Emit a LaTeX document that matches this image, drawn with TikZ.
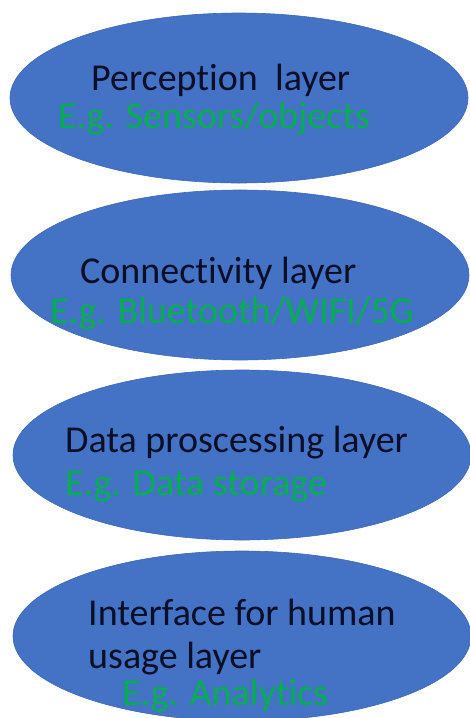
\documentclass[tikz,border=0pt]{standalone}
\usepackage{fontspec}
\setmainfont{Carlito}[Ligatures=NoCommon]
\usetikzlibrary{shapes.geometric}
\definecolor{layerblue}{HTML}{4472C4}
\definecolor{layeredge}{HTML}{3F69B5}
\definecolor{examplegreen}{HTML}{00B050}
\definecolor{titleink}{HTML}{0A0F28}
\tikzset{
	layer/.style={ellipse, fill=layerblue, draw=layeredge, line width=0.6pt, minimum width=458pt, minimum height=170pt, inner sep=0pt},
	title/.style={anchor=base west, inner sep=0pt, text=titleink, font=\fontsize{38}{44}\selectfont},
	example/.style={anchor=base west, inner sep=0pt, text=examplegreen, font=\fontsize{38}{44}\selectfont}
}
\begin{document}
\begin{tikzpicture}[x=1pt, y=-1pt]
		%%%%% START %%%%%
		\useasboundingbox (0, 0) rectangle (470, 718);
		
		\node[layer] (perception) at (239, 98) {};
		\node[title] (perceptiontitle) at (91, 90) {Perception\ \ layer};
		\node[example] (perceptionexample) at (58, 128) {E.g. Sensors/objects};
		
		\node[layer] (connectivity) at (240, 275) {};
		\node[title] (connectivitytitle) at (80, 283) {Connectivity layer};
		\node[example] (connectivityexample) at (50, 323) {E.g. Bluetooth/WIFI/5G};
		
		\node[layer] (processing) at (242, 455) {};
		\node[title] (processingtitle) at (65, 452) {Data proscessing layer};
		\node[example] (processingexample) at (65, 495) {E.g. Data storage};
		
		\node[layer] (interface) at (242, 636) {};
		\node[title] (interfacetitle) at (88, 625) {Interface for human};
		\node[title] (interfacetitletwo) at (88, 668) {usage layer};
		\node[example] (interfaceexample) at (122, 705) {E.g. Analytics};
		
		%%%%% END %%%%%
	\end{tikzpicture}
\end{document}
